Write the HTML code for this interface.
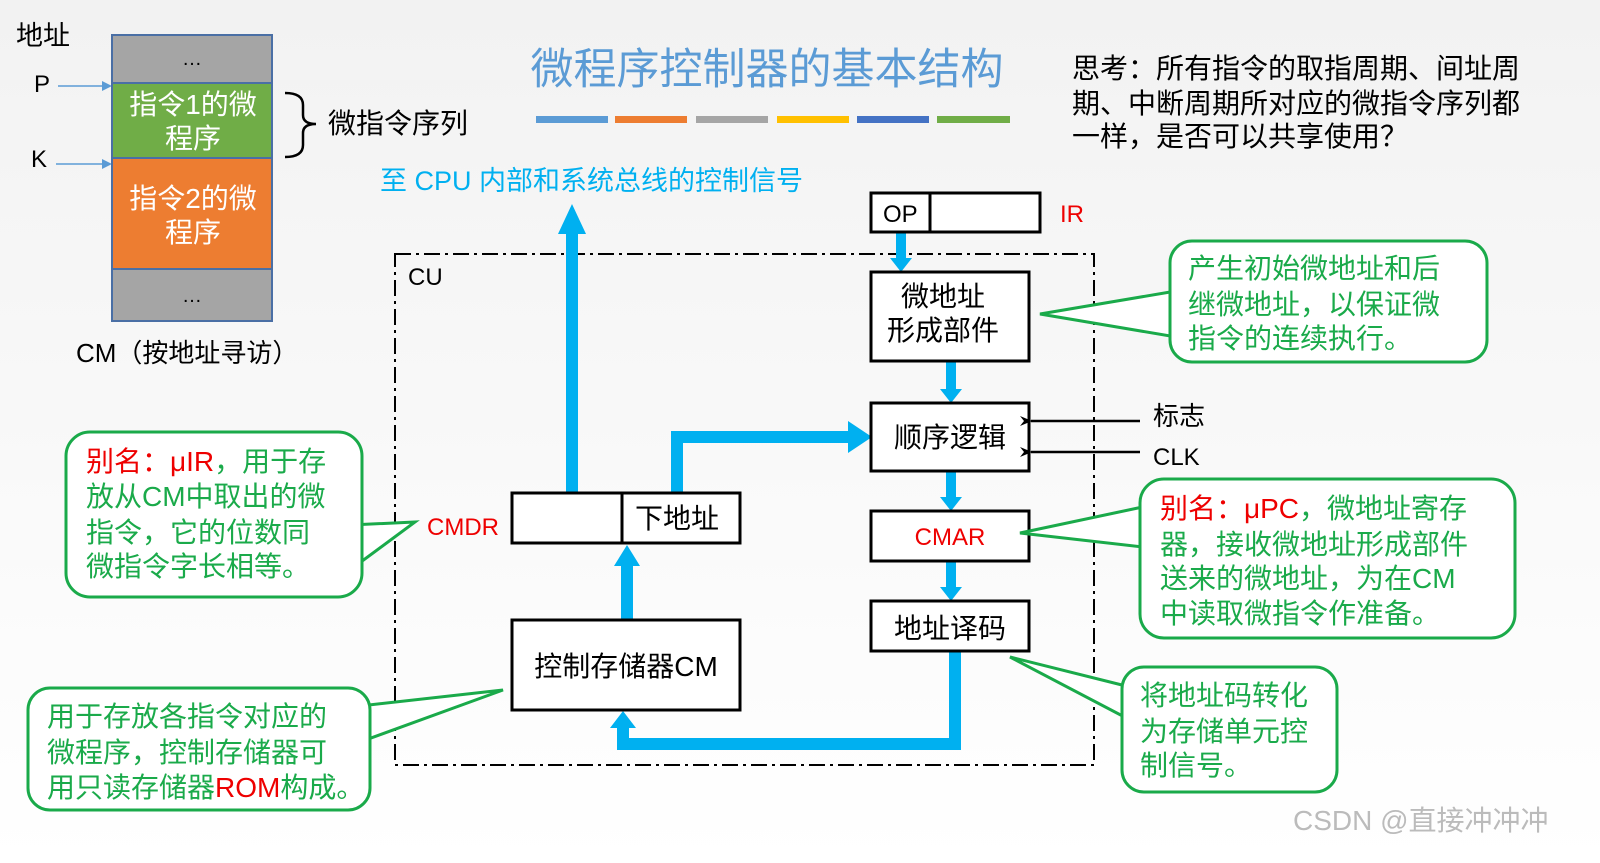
<!DOCTYPE html>
<html><head><meta charset="utf-8"><style>
body{margin:0;background:#f7f7f7}
svg{display:block}
text{font-family:"Liberation Sans","Noto Sans CJK SC",sans-serif}
</style></head><body>
<svg width="1600" height="863" viewBox="0 0 1600 863" xmlns="http://www.w3.org/2000/svg">
<defs>
<linearGradient id="bg" x1="0" y1="0" x2="0" y2="1"><stop offset="0" stop-color="#f2f2f2"/><stop offset="1" stop-color="#ffffff"/></linearGradient>
<marker id="ba" markerWidth="10" markerHeight="10" refX="8" refY="5" orient="auto" markerUnits="userSpaceOnUse"><path d="M0,0 L10,5 L0,10 z" fill="#5b9bd5"/></marker>
<marker id="ka" markerWidth="12" markerHeight="12" refX="1" refY="6" orient="auto" markerUnits="userSpaceOnUse"><path d="M12,1 L0,6 L12,11 L8,6 z" fill="#000"/></marker>
</defs>
<rect width="1600" height="863" fill="url(#bg)"/>

<text x="16" y="45" font-size="27">地址</text>
<text x="34" y="92" font-size="24">P</text>
<text x="31" y="167" font-size="24">K</text>
<line x1="58" y1="86" x2="110" y2="86" stroke="#5b9bd5" stroke-width="1.5" marker-end="url(#ba)"/>
<line x1="56" y1="164" x2="110" y2="164" stroke="#5b9bd5" stroke-width="1.5" marker-end="url(#ba)"/>
<g stroke="#4a6fa5" stroke-width="2">
<rect x="112" y="35" width="160" height="48" fill="#a5a5a5"/>
<rect x="112" y="83" width="160" height="75" fill="#70ad47"/>
<rect x="112" y="158" width="160" height="111" fill="#ed7d31"/>
<rect x="112" y="269" width="160" height="52" fill="#a5a5a5"/>
</g>
<text x="192" y="65" font-size="20" text-anchor="middle">…</text>
<text x="192" y="302" font-size="20" text-anchor="middle">…</text>
<g fill="#fff" font-size="28" text-anchor="middle">
<text x="193" y="114">指令1的微</text><text x="193" y="148">程序</text>
<text x="193" y="208">指令2的微</text><text x="193" y="242">程序</text>
</g>
<path d="M285,93 Q303,93 303,105 L303,115 Q303,124 316,124 Q303,124 303,133 L303,145 Q303,157 285,157" fill="none" stroke="#000" stroke-width="2.5"/>
<text x="328" y="133" font-size="28">微指令序列</text>
<text x="76" y="362" font-size="26">CM（按地址寻访）</text>

<text x="767" y="84" font-size="43" fill="#5b9bd5" text-anchor="middle">微程序控制器的基本结构</text>
<rect x="536" y="116" width="72" height="7" fill="#5b9bd5"/>
<rect x="615" y="116" width="72" height="7" fill="#ed7d31"/>
<rect x="696" y="116" width="72" height="7" fill="#a5a5a5"/>
<rect x="777" y="116" width="72" height="7" fill="#ffc000"/>
<rect x="857" y="116" width="72" height="7" fill="#4472c4"/>
<rect x="937" y="116" width="73" height="7" fill="#70ad47"/>
<g font-size="28"><text x="1072" y="78">思考：所有指令的取指周期、间址周</text><text x="1072" y="113">期、中断周期所对应的微指令序列都</text><text x="1072" y="146">一样，是否可以共享使用？</text></g>

<text x="380" y="190" font-size="27" fill="#00b0f0">至 CPU 内部和系统总线的控制信号</text>

<rect x="395" y="254" width="699" height="511" fill="none" stroke="#000" stroke-width="2" stroke-dasharray="16,5,3,5"/>
<text x="408" y="285" font-size="24">CU</text>

<g fill="#00b0f0">
<rect x="566" y="232" width="12" height="261"/><path d="M558,234 L572,204 L586,234 z"/>
<rect x="671" y="431" width="12" height="62"/><rect x="671" y="431" width="180" height="12"/><path d="M848,421 L872,437 L848,453 z"/>
<rect x="621" y="565" width="12" height="55"/><path d="M614,566 L627,545 L640,566 z"/>
<rect x="949" y="651" width="12" height="99"/><rect x="617" y="738" width="344" height="12"/><rect x="617" y="728" width="12" height="22"/><path d="M610,728 L623,711 L636,728 z"/>
<rect x="896" y="232" width="10" height="28"/><path d="M890,258 L901,272 L912,258 z"/>
<rect x="946" y="361" width="10" height="30"/><path d="M940,389 L951,403 L962,389 z"/>
<rect x="946" y="471" width="10" height="28"/><path d="M940,497 L951,511 L962,497 z"/>
<rect x="946" y="561" width="10" height="28"/><path d="M940,587 L951,601 L962,587 z"/>
</g>

<g fill="#fff" stroke="#000" stroke-width="3">
<rect x="871" y="193" width="169" height="39"/><line x1="930" y1="193" x2="930" y2="232"/>
<rect x="871" y="272" width="158" height="89"/>
<rect x="871" y="403" width="158" height="68"/>
<rect x="871" y="511" width="158" height="50"/>
<rect x="871" y="601" width="158" height="50"/>
<rect x="512" y="493" width="228" height="50"/><line x1="622" y1="493" x2="622" y2="543"/>
<rect x="512" y="620" width="228" height="90"/>
</g>
<text x="883" y="222" font-size="24">OP</text>
<text x="1060" y="222" font-size="24" fill="#e00">IR</text>
<g font-size="28" text-anchor="middle">
<text x="943" y="306">微地址</text><text x="943" y="340">形成部件</text>
<text x="950" y="447">顺序逻辑</text>
<text x="950" y="638">地址译码</text>
<text x="677" y="528">下地址</text>
<text x="626" y="676">控制存储器CM</text>
</g>
<text x="950" y="545" font-size="24" fill="#e00" text-anchor="middle">CMAR</text>
<text x="427" y="535" font-size="24" fill="#e00">CMDR</text>

<line x1="1140" y1="421" x2="1031" y2="421" stroke="#000" stroke-width="2.5" marker-end="url(#ka)"/>
<line x1="1140" y1="452" x2="1031" y2="452" stroke="#000" stroke-width="2.5" marker-end="url(#ka)"/>
<text x="1153" y="425" font-size="26">标志</text>
<text x="1153" y="465" font-size="24">CLK</text>

<g fill="#fff" stroke="#1aaa4a" stroke-width="3">
<path d="M350,525 L415,522 L350,570 z"/>
<rect x="66" y="432" width="296" height="165" rx="24"/>
<path d="M360,706 L503,690 L360,742 z"/>
<rect x="28" y="688" width="342" height="122" rx="22"/>
<path d="M1182,290 L1040,314 L1182,338 z"/>
<rect x="1170" y="241" width="317" height="121" rx="22"/>
<path d="M1152,505 L1020,533 L1152,548 z"/>
<rect x="1140" y="479" width="375" height="159" rx="24"/>
<path d="M1134,688 L1010,657 L1134,722 z"/>
<rect x="1122" y="667" width="215" height="125" rx="22"/>
</g>
<g font-size="28" fill="#1aaa4a">
<text x="86" y="471"><tspan fill="#e00">别名：μIR</tspan>，用于存</text>
<text x="86" y="506">放从CM中取出的微</text>
<text x="86" y="542">指令，它的位数同</text>
<text x="86" y="576">微指令字长相等。</text>
<text x="47" y="726">用于存放各指令对应的</text>
<text x="47" y="762">微程序，控制存储器可</text>
<text x="47" y="797">用只读存储器<tspan fill="#e00">ROM</tspan>构成。</text>
<text x="1188" y="278">产生初始微地址和后</text>
<text x="1188" y="314">继微地址，以保证微</text>
<text x="1188" y="348">指令的连续执行。</text>
<text x="1160" y="518"><tspan fill="#e00">别名：μPC</tspan>，微地址寄存</text>
<text x="1160" y="554">器，接收微地址形成部件</text>
<text x="1160" y="588">送来的微地址，为在CM</text>
<text x="1160" y="623">中读取微指令作准备。</text>
<text x="1140" y="705">将地址码转化</text>
<text x="1140" y="741">为存储单元控</text>
<text x="1140" y="775">制信号。</text>
</g>
<text x="1293" y="830" font-size="28" fill="#bbb">CSDN @直接冲冲冲</text>
</svg>
</body></html>
